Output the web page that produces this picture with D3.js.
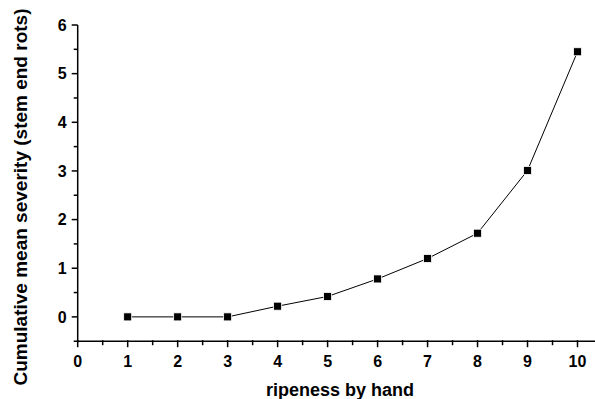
<!DOCTYPE html>
<html>
<head>
<meta charset="utf-8">
<script src="https://cdn.jsdelivr.net/npm/d3@7"></script>
<style>
  body { margin: 0; background: #fff; }
  text { font-family: Arial, "Liberation Sans", sans-serif; font-weight: bold; fill: #000; }
</style>
</head>
<body>
<svg width="595" height="399"></svg>
<script>
// ripeness score vs cumulative severity
var ripeness = [1, 2, 3, 4, 5, 6, 7, 8, 9, 10];
var severity = [0, 0, 0, 0.22, 0.42, 0.78, 1.2, 1.72, 3.01, 5.45];
var xTicks = [0, 1, 2, 3, 4, 5, 6, 7, 8, 9, 10];
var yTicks = [0, 1, 2, 3, 4, 5, 6];

var svg = d3.select("svg");

var x = d3.scaleLinear().domain([0, 10.35]).range([77.7, 595]);
var y = d3.scaleLinear().domain([-0.5, 6]).range([341.2, 25]);

// x axis
var xAxis = svg.append("g").attr("transform", "translate(0,341.2)");
xAxis.append("line").attr("x1", x(0) - 4).attr("x2", x(10.35)).attr("stroke", "#000").attr("stroke-width", 1.5);
xAxis.selectAll(".minor").data(d3.range(0.5, 10.35, 1)).enter().append("line")
    .attr("x1", function(d) { return x(d); }).attr("x2", function(d) { return x(d); })
    .attr("y1", -1).attr("y2", 4).attr("stroke", "#000").attr("stroke-width", 1.5);
xAxis.selectAll(".major").data(xTicks).enter().append("line")
    .attr("x1", function(d) { return x(d); }).attr("x2", function(d) { return x(d); })
    .attr("y1", -1).attr("y2", 6).attr("stroke", "#000").attr("stroke-width", 1.5);
xAxis.selectAll("text").data(xTicks).enter().append("text")
    .attr("x", function(d) { return x(d); }).attr("y", 26)
    .attr("text-anchor", "middle").attr("font-size", 16)
    .text(function(d) { return d; });

// y axis
var yAxis = svg.append("g").attr("transform", "translate(77.7,0)");
yAxis.append("line").attr("y1", y(-0.5) + 1).attr("y2", y(6)).attr("stroke", "#000").attr("stroke-width", 1.5);
yAxis.selectAll(".minor").data(d3.range(0.5, 6, 1)).enter().append("line")
    .attr("y1", function(d) { return y(d); }).attr("y2", function(d) { return y(d); })
    .attr("x1", -4).attr("x2", 0).attr("stroke", "#000").attr("stroke-width", 1.5);
yAxis.selectAll(".major").data(yTicks).enter().append("line")
    .attr("y1", function(d) { return y(d); }).attr("y2", function(d) { return y(d); })
    .attr("x1", -6).attr("x2", 0).attr("stroke", "#000").attr("stroke-width", 1.5);
yAxis.selectAll("text").data(yTicks).enter().append("text")
    .attr("x", -11).attr("y", function(d) { return y(d) + 5.7; })
    .attr("text-anchor", "end").attr("font-size", 16)
    .text(function(d) { return d; });

// titles
svg.append("text").attr("x", 340).attr("y", 396)
    .attr("text-anchor", "middle").attr("font-size", 18)
    .text("ripeness by hand");
svg.append("text").attr("transform", "translate(27,197) rotate(-90)")
    .attr("text-anchor", "middle").attr("font-size", 19)
    .text("Cumulative mean severity (stem end rots)");

// series
var pts = ripeness.map(function(r, i) { return [r, severity[i]]; });
svg.append("path").datum(pts)
    .attr("fill", "none").attr("stroke", "#000").attr("stroke-width", 1)
    .attr("d", d3.line().x(function(d) { return x(d[0]); }).y(function(d) { return y(d[1]); }));
svg.selectAll(".pt").data(pts).enter().append("rect")
    .attr("x", function(d) { return x(d[0]) - 4; })
    .attr("y", function(d) { return y(d[1]) - 4; })
    .attr("width", 8).attr("height", 8)
    .attr("fill", "#000").attr("stroke", "#fff").attr("stroke-width", 0.8);
</script>
</body>
</html>
